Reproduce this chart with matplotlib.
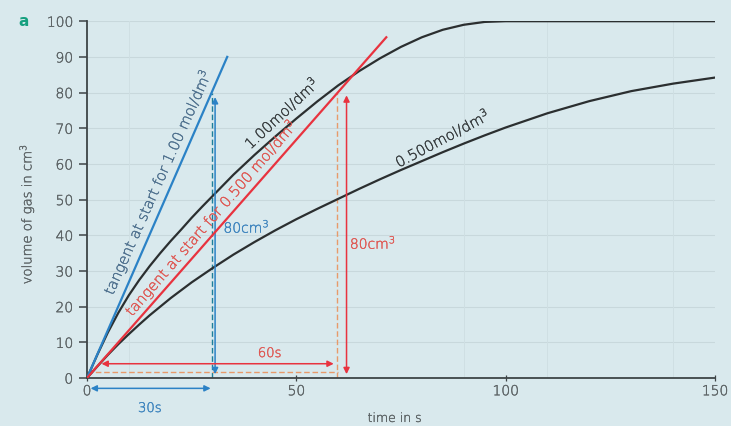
import matplotlib
matplotlib.use("Agg")
import matplotlib.pyplot as plt
import matplotlib.patheffects as pe

plt.rcParams['font.family'] = ['DejaVu Sans']
plt.rcParams['font.weight'] = 'light'
plt.rcParams['axes.labelweight'] = 'light'

# reaction curves
t_fast = [0, 2.5, 5, 7.5, 10, 12.5, 15, 17.5, 20, 22.5, 25, 27.5, 30, 35, 40, 45, 50, 55,
          60, 65, 70, 75, 80, 85, 90, 95, 100, 150]
v_fast = [0, 6.6, 12.8, 18.3, 23.2, 27.5, 31.4, 35, 38.4, 41.6, 44.9, 48, 51, 57, 62.5, 67.7,
          72.7, 77.5, 82, 86, 89.6, 92.8, 95.5, 97.6, 99, 99.8, 100, 100]

t_slow = [0, 2.5, 5, 7.5, 10, 12.5, 15, 17.5, 20, 25, 30, 35, 40, 45, 50, 55, 60, 65, 70,
          75, 80, 85, 90, 95, 100, 110, 120, 130, 140, 150]
v_slow = [0, 3.3, 6.5, 9.5, 12.3, 15, 17.6, 20, 22.4, 26.8, 30.8, 34.6, 38.1, 41.4, 44.5,
          47.4, 50.2, 53, 55.7, 58.3, 60.8, 63.3, 65.7, 68, 70.2, 74.2, 77.6, 80.4, 82.5, 84.2]

# tangents at start
tan_fast_t = [0, 33.5]
tan_fast_v = [0, 90]
tan_slow_t = [0, 71.5]
tan_slow_v = [0, 95.5]

xticks = [0, 50, 100, 150]
yticks = list(range(0, 101, 10))

bg = '#d9e9ed'
blue = '#2b82c6'
blue_txt = '#3a82bd'
teal = '#1f7f9a'
red = '#e8333f'
red_txt = '#df5550'
orange = '#e89a6a'
dark = '#2b2f30'
grey_txt = '#5a6163'


def thicken(txt, color, w=0.25):
    txt.set_path_effects([pe.withStroke(linewidth=w, foreground=color)])
    return txt


fig = plt.figure(figsize=(7.31, 4.27), dpi=100)
fig.patch.set_facecolor(bg)
ax = fig.add_axes([0.119, 0.1124, 0.859, 0.8356])
ax.set_facecolor(bg)
ax.set_xlim(0, 150)
ax.set_ylim(0, 100)

for y in yticks[1:]:
    ax.axhline(y, color='#c8d8dc', lw=0.8, zorder=0)
for x in [10, 90, 110, 140]:
    ax.axvline(x, color='#cfdfe3', lw=0.7, zorder=0)

ax.plot(t_fast, v_fast, color=dark, lw=1.6, zorder=3, solid_joinstyle='round')
ax.plot(t_slow, v_slow, color=dark, lw=1.6, zorder=3, solid_joinstyle='round')
ax.plot(tan_fast_t, tan_fast_v, color=blue, lw=1.6, zorder=4)
ax.plot(tan_slow_t, tan_slow_v, color=red, lw=1.6, zorder=4)

# construction lines for the 1.00 tangent
ax.plot([29.8, 29.8], [0, 80], color=teal, lw=1.0, ls=(0, (4, 2)), zorder=2)
ax.annotate('', xy=(30.6, 79.5), xytext=(30.6, 0.3),
            arrowprops=dict(arrowstyle='<|-|>', color=blue, lw=1.1, mutation_scale=9))
ax.annotate('', xy=(0.2, -2.9), xytext=(30.2, -2.9), annotation_clip=False,
            arrowprops=dict(arrowstyle='<|-|>', color=blue, lw=1.1, mutation_scale=9))
thicken(ax.text(15, -8.4, '30s', color=blue_txt, fontsize=9.5, ha='center', va='center',
                clip_on=False), blue_txt)
thicken(ax.text(32.6, 42.5, '80cm$^3$', color=blue_txt, fontsize=10, ha='left', va='center'),
        blue_txt)

# construction lines for the 0.500 tangent
ax.plot([0, 60], [1.6, 1.6], color=orange, lw=1.0, ls=(0, (4, 2)), zorder=2)
ax.plot([59.8, 59.8], [0, 80], color=orange, lw=1.0, ls=(0, (4, 2)), zorder=2)
ax.annotate('', xy=(62.0, 80), xytext=(62.0, 0.3),
            arrowprops=dict(arrowstyle='<|-|>', color=red, lw=1.1, mutation_scale=9))
ax.annotate('', xy=(2.8, 4), xytext=(59.6, 4),
            arrowprops=dict(arrowstyle='<|-|>', color=red, lw=1.1, mutation_scale=9))
thicken(ax.text(40.8, 7, '60s', color=red_txt, fontsize=9.5, ha='left', va='center'), red_txt)
thicken(ax.text(62.8, 38, '80cm$^3$', color=red_txt, fontsize=10, ha='left', va='center'),
        red_txt)

# curve labels
lbl_blue = '#4c6e8c'
lbl_dark = '#353a3c'
thicken(ax.text(16.8, 55, 'tangent at start for 1.00 mol/dm$^3$', color=lbl_blue,
                fontsize=10.5, rotation=66, ha='center', va='center',
                rotation_mode='anchor'), lbl_blue)
thicken(ax.text(29.6, 45.0, 'tangent at start for 0.500 mol/dm$^3$', color=red_txt,
                fontsize=10.5, rotation=49, ha='center', va='center',
                rotation_mode='anchor'), red_txt)
thicken(ax.text(46.3, 74.5, '1.00mol/dm$^3$', color=lbl_dark, fontsize=10.5,
                rotation=43, ha='center', va='center', rotation_mode='anchor'), lbl_dark)
thicken(ax.text(84.8, 67.5, '0.500mol/dm$^3$', color=lbl_dark, fontsize=10.5,
                rotation=28, ha='center', va='center', rotation_mode='anchor'), lbl_dark)

for side in ['top', 'right']:
    ax.spines[side].set_visible(False)
for side in ['left', 'bottom']:
    ax.spines[side].set_color('#3d4446')
    ax.spines[side].set_linewidth(1.3)

ax.set_xticks(xticks)
ax.set_yticks(yticks)
ax.tick_params(axis='y', direction='out', length=6, width=1.1, color='#3d4446',
               labelsize=10, labelcolor=grey_txt, pad=4)
ax.tick_params(axis='x', direction='inout', length=5, width=0.9, color='#3d4446',
               labelsize=10, labelcolor=grey_txt, pad=2)
for lab in ax.get_xticklabels() + ax.get_yticklabels():
    thicken(lab, grey_txt)

thicken(ax.set_xlabel('time in s', fontsize=9, color=grey_txt), grey_txt)
thicken(ax.set_ylabel('volume of gas in cm$^3$', fontsize=9.5, color=grey_txt), grey_txt)
ax.xaxis.set_label_coords(0.49, -0.095)
ax.yaxis.set_label_coords(-0.081, 0.46)

fig.text(18 / 731, 1 - 22 / 427, 'a', color='#16a07f', fontsize=11, fontweight='bold',
         ha='left', va='center')

fig.savefig('out.png', dpi=100, facecolor=bg)
